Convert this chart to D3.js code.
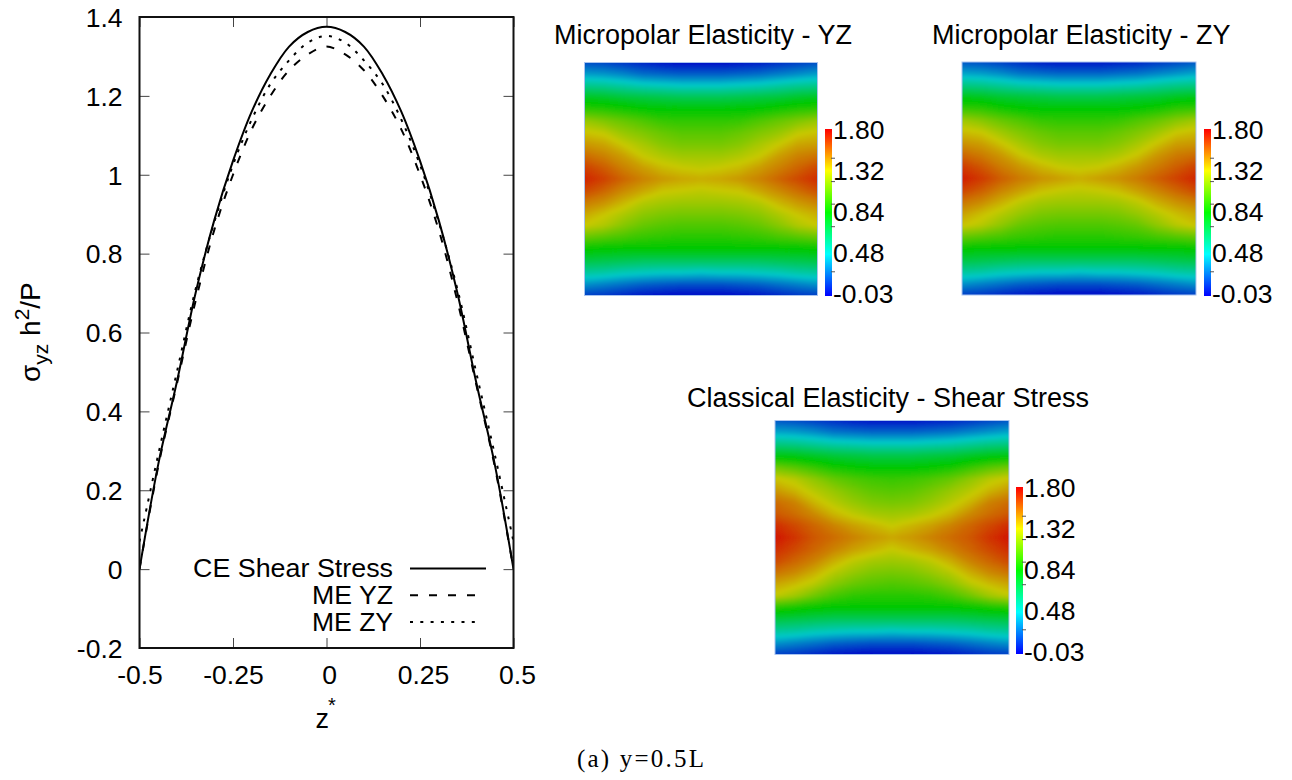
<!DOCTYPE html>
<html><head><meta charset="utf-8">
<script src="https://cdnjs.cloudflare.com/ajax/libs/d3/7.8.5/d3.min.js"></script>
<style>html,body{margin:0;background:#fff}svg{display:block}text{font-family:"Liberation Sans",Arial,sans-serif;fill:#000}</style>
</head><body><svg id="c" width="1292" height="780"></svg>
<script>
// ---- line chart data ----
const zValues = [-0.5,-0.45,-0.4,-0.35,-0.3,-0.25,-0.2,-0.15,-0.1,-0.05,0,0.05,0.1,0.15,0.2,0.25,0.3,0.35,0.4,0.45,0.5];
const ceShear = [0,0.265,0.475,0.70,0.885,1.035,1.16,1.255,1.325,1.362,1.375,1.362,1.325,1.255,1.16,1.035,0.885,0.70,0.475,0.265,0];
const meYZ    = [0,0.26,0.47,0.68,0.86,1.0,1.115,1.2,1.265,1.305,1.325,1.305,1.265,1.2,1.115,1.0,0.86,0.68,0.47,0.26,0];
const meZY    = [0.07,0.29,0.50,0.71,0.88,1.025,1.14,1.23,1.29,1.335,1.352,1.335,1.29,1.23,1.14,1.025,0.88,0.71,0.50,0.29,0.07];
const xTicks = [-0.5,-0.25,0,0.25,0.5];
const xTickLabels = ["-0.5","-0.25","0","0.25","0.5"];
const yTicks = [-0.2,0,0.2,0.4,0.6,0.8,1,1.2,1.4];
const yTickLabels = ["-0.2","0","0.2","0.4","0.6","0.8","1","1.2","1.4"];
const legendLabels = ["CE Shear Stress","ME YZ","ME ZY"];
// ---- colour bar ----
const barLabels = ["1.80","1.32","0.84","0.48","-0.03"];
const barTickFractions = [0.175,0.315,0.45,0.585,0.855];
const barStops = ["#0000ff","#00ffff","#00ff00","#ffff00","#ff0000"];
const fieldStops = ["#0000c8","#00c8c8","#00c800","#c8c800","#d21400"];
// ---- stress fields, % of the colour-bar range; rows top to bottom ----
const fieldYZ = [
[10,9,7,5,3,2,2,2,3,4,6,8,10],
[20,19,17,14,13,12,12,12,13,14,16,18,20],
[33,32,30,28,27,26,26,26,27,28,30,32,33],
[46,45,43,42,41,40,40,40,41,42,43,45,46],
[56,55,53,51,50,50,50,50,50,51,53,55,56],
[69,66,63,60,57,56,56,56,57,60,63,66,69],
[76,74,69,66,63,61,61,61,63,66,69,74,76],
[82,80,75,71,67,65,65,65,67,71,75,80,81],
[88,85,81,75,72,70,70,70,72,75,81,85,87],
[94,90,85,81,77,75,74,75,77,81,85,89,93],
[98,94,89,85,82,80,79,80,82,85,89,93,97],
[93,89,84,80,76,75,74,75,76,80,84,88,92],
[86,83,78,73,71,70,70,70,71,73,78,82,85],
[80,76,72,68,66,65,65,65,66,68,72,76,79],
[75,72,67,63,61,60,60,60,61,63,67,72,75],
[63,61,59,57,56,55,55,55,56,57,59,61,63],
[51,50,50,50,50,50,50,50,50,50,50,50,51],
[42,41,40,39,39,39,39,39,39,39,40,41,42],
[31,30,28,27,26,26,25,26,26,27,28,30,31],
[19,17,15,13,12,11,11,11,12,13,15,17,19],
[8,7,5,3,2,1,1,1,2,3,5,7,8]];
const fieldZY = [
[11,10,8,6,4,3,3,3,4,5,7,9,11],
[21,20,18,15,14,13,13,13,14,15,17,19,21],
[34,33,31,29,28,27,27,27,28,29,31,33,34],
[47,46,44,43,42,41,41,41,42,43,44,46,47],
[57,56,53,51,50,50,50,50,50,51,53,56,57],
[70,67,63,60,57,56,56,56,57,60,63,67,70],
[77,75,70,66,63,61,61,61,63,66,70,75,77],
[83,81,76,71,67,65,65,65,67,71,76,81,82],
[89,86,82,76,72,70,70,70,72,76,82,86,88],
[95,91,86,82,78,75,74,75,78,82,86,90,94],
[99,95,90,86,83,81,79,81,83,86,90,94,98],
[94,90,85,81,77,75,74,75,77,81,85,89,93],
[87,84,79,74,71,70,70,70,71,74,79,83,86],
[81,77,73,69,66,65,65,65,66,69,73,77,80],
[76,73,68,63,61,60,60,60,61,63,68,73,76],
[63,61,59,57,56,55,55,55,56,57,59,61,63],
[51,50,50,50,50,50,50,50,50,50,50,50,51],
[42,41,40,39,39,39,39,39,39,39,40,41,42],
[31,30,28,27,26,26,25,26,26,27,28,30,31],
[19,17,15,13,12,11,11,11,12,13,15,17,19],
[8,7,5,3,2,1,1,1,2,3,5,7,8]];
const fieldCE = [
[11,10,8,6,4,3,3,3,4,5,7,9,11],
[21,20,18,15,14,13,13,13,14,15,17,19,21],
[34,33,31,29,28,27,27,27,28,29,31,33,34],
[48,47,45,43,42,41,41,41,42,43,45,47,48],
[64,61,57,53,51,50,50,50,51,53,57,61,64],
[76,73,68,63,60,58,57,58,60,63,68,73,76],
[82,78,73,69,65,62,61,62,65,69,73,78,82],
[88,85,78,73,69,66,65,66,69,73,78,85,88],
[91,88,84,78,74,71,70,71,74,78,84,88,91],
[97,93,89,85,81,78,75,78,81,85,89,93,97],
[100,96,91,88,85,82,80,82,85,88,91,96,100],
[97,93,89,85,81,78,75,78,81,85,89,93,97],
[93,89,85,79,74,71,70,71,74,79,85,89,93],
[87,84,79,73,69,66,65,66,69,73,79,84,87],
[80,77,73,67,63,61,60,61,63,67,73,77,80],
[74,70,64,59,56,55,55,55,56,59,64,70,74],
[55,53,51,50,50,50,50,50,50,50,51,53,55],
[42,41,40,39,39,39,39,39,39,39,40,41,42],
[31,30,28,27,26,26,25,26,26,27,28,30,31],
[19,17,15,13,12,11,11,11,12,13,15,17,19],
[8,7,5,3,2,1,1,1,2,3,5,7,8]];
const panels = [
 {id:"yz",title:"Micropolar Elasticity - YZ",titleX:554,titleY:44,field:fieldYZ,x:584.5,y:62.5,w:233,h:233,barX:825,barY:129,labelX:833},
 {id:"zy",title:"Micropolar Elasticity - ZY",titleX:932,titleY:44,field:fieldZY,x:962,y:62,w:234,h:233,barX:1204,barY:129,labelX:1212},
 {id:"ce",title:"Classical Elasticity - Shear Stress",titleX:687,titleY:407,field:fieldCE,x:775,y:420.5,w:234,h:234,barX:1016,barY:487,labelX:1024}
];

const svg = d3.select("#c");
const defs = svg.append("defs");
defs.append("filter").attr("id","soft").attr("x","-5%").attr("y","-5%").attr("width","110%").attr("height","110%")
  .append("feGaussianBlur").attr("stdDeviation",1.6);
const grad = defs.append("linearGradient").attr("id","bar").attr("x1",0).attr("x2",0).attr("y1",1).attr("y2",0);
barStops.forEach((c,i)=>grad.append("stop").attr("offset",i/(barStops.length-1)).attr("stop-color",c));

// ---- line chart ----
const L=139.5,R=513.5,T=17,B=648;
const x = d3.scaleLinear().domain([-0.5,0.5]).range([L,R]);
const y = d3.scaleLinear().domain([-0.2,1.4]).range([B,T]);
defs.append("clipPath").attr("id","plot").append("rect").attr("x",L).attr("y",T).attr("width",R-L).attr("height",B-T);
const g = svg.append("g");
const tickColor="#444";
[[d3.axisBottom(x),B,-10,"x"],[d3.axisTop(x),T,-10,"xt"]].forEach(([ax,py,s,k])=>{
  const a=g.append("g").attr("transform",`translate(0,${py})`)
   .call(ax.tickValues(xTicks).tickSizeOuter(0).tickSizeInner(s).tickFormat((d,i)=>k==="x"?xTickLabels[i]:""));
  a.select(".domain").remove();
  a.selectAll("line").attr("stroke",tickColor).attr("stroke-width",1);
  a.selectAll("text").attr("font-size",26.5).attr("fill","#000").attr("font-family","Liberation Sans")
   .attr("y",35.5).attr("dy",0)
   .attr("dx",(d,i)=>[0,0,2.5,3,3.5][i]);
});
[[d3.axisLeft(y),L,-10,"y"],[d3.axisRight(y),R,-10,"yr"]].forEach(([ax,px,s,k])=>{
  const a=g.append("g").attr("transform",`translate(${px},0)`)
   .call(ax.tickValues(yTicks).tickSizeOuter(0).tickSizeInner(s).tickFormat((d,i)=>k==="y"?yTickLabels[i]:""));
  a.select(".domain").remove();
  a.selectAll("line").attr("stroke",tickColor).attr("stroke-width",1);
  a.selectAll("text").attr("font-size",26.5).attr("fill","#000").attr("font-family","Liberation Sans")
   .attr("x",-17).attr("dy","0.35em");
});
const line = d3.line().x((d,i)=>x(zValues[i])).y(d=>y(d)).curve(d3.curveCatmullRom.alpha(0.5));
const plot = g.append("g").attr("clip-path","url(#plot)").attr("fill","none").attr("stroke","#000");
const styles = [{w:2,dash:null,len:76},{w:2,dash:"8 11",len:65},{w:2,dash:"3 7.3",len:72}];
[ceShear,meYZ,meZY].forEach((s,i)=>plot.append("path").attr("d",line(s)).attr("stroke-width",styles[i].w).attr("stroke-dasharray",styles[i].dash));
g.append("rect").attr("x",L).attr("y",T).attr("width",R-L).attr("height",B-T).attr("fill","none").attr("stroke","#111").attr("stroke-width",2);
const legendStep=26.8;
legendLabels.forEach((t,i)=>{
  const ly=568.5+i*legendStep;
  g.append("text").attr("x",393).attr("y",ly+8.5).attr("text-anchor","end").attr("font-size",25.5).attr("textLength",i===0?200:81).attr("lengthAdjust","spacingAndGlyphs").text(t);
  g.append("line").attr("x1",410).attr("x2",410+styles[i].len).attr("y1",ly).attr("y2",ly)
    .attr("stroke","#000").attr("stroke-width",styles[i].w).attr("stroke-dasharray",styles[i].dash);
});
// axis titles
const xl=g.append("text").attr("x",315.5).attr("y",728).attr("font-size",27);
xl.append("tspan").text("z");
g.append("text").attr("x",328).attr("y",712).attr("font-size",20).text("*");
const yl=g.append("text").attr("transform","translate(40,382) rotate(-90)").attr("font-size",28);
yl.append("tspan").text("σ");
yl.append("tspan").attr("dy",8).attr("font-size",21).text("yz");
yl.append("tspan").attr("dy",-8).text(" h");
yl.append("tspan").attr("dy",-11).attr("font-size",21).text("2");
yl.append("tspan").attr("dy",11).text("/P");

// ---- field panels ----
const fieldColor = d3.scaleLinear().domain(d3.range(fieldStops.length).map(i=>100*i/(fieldStops.length-1))).range(fieldStops).clamp(true);
const levels = d3.range(0,100.01,0.5);
panels.forEach(p=>{
  const nc=p.field[0].length,nr=p.field.length;
  const fx=d3.scaleLinear().domain([0.5,nc-0.5]).range([p.x,p.x+p.w]);
  const fy=d3.scaleLinear().domain([0.5,nr-0.5]).range([p.y,p.y+p.h]);
  const geo=d3.geoPath(d3.geoTransform({point(a,b){this.stream.point(fx(a),fy(b));}}));
  defs.append("clipPath").attr("id","cl-"+p.id).append("rect").attr("x",p.x).attr("y",p.y).attr("width",p.w).attr("height",p.h);
  const pg=svg.append("g");
  pg.append("text").attr("x",p.titleX).attr("y",p.titleY).attr("font-size",27).text(p.title);
  const cl=pg.append("g").attr("clip-path",`url(#cl-${p.id})`);
  const inner=cl.append("g").attr("filter","url(#soft)");
  inner.append("rect").attr("x",p.x-12).attr("y",p.y-12).attr("width",p.w+24).attr("height",p.h+24).attr("fill",fieldColor(0));
  const cs=d3.contours().size([nc,nr]).smooth(true).thresholds(levels)(p.field.flat());
  inner.selectAll("path").data(cs).join("path").attr("d",geo).attr("fill",d=>fieldColor(d.value));
  pg.append("rect").attr("x",p.x).attr("y",p.y).attr("width",p.w).attr("height",p.h).attr("fill","none").attr("stroke","#a8c4f0").attr("stroke-width",1);
  const bh=167,bw=7;
  pg.append("rect").attr("x",p.barX).attr("y",p.barY).attr("width",bw).attr("height",bh).attr("fill","url(#bar)");
  const by=d3.scaleLinear().domain([0,1]).range([p.barY,p.barY+bh]);
  barTickFractions.forEach(f=>pg.append("line").attr("x1",p.barX+bw-1).attr("x2",p.barX+bw+3).attr("y1",by(f)).attr("y2",by(f)).attr("stroke","#555").attr("stroke-width",1));
  barLabels.forEach((t,i)=>pg.append("text").attr("x",p.labelX).attr("y",p.barY+10+i*41).attr("font-size",26.5).text(t));
});
svg.append("text").attr("x",577).attr("y",767).attr("font-size",25).attr("textLength",127).attr("lengthAdjust","spacing")
  .style("font-family","Liberation Serif").text("(a) y=0.5L");
</script></body></html>
